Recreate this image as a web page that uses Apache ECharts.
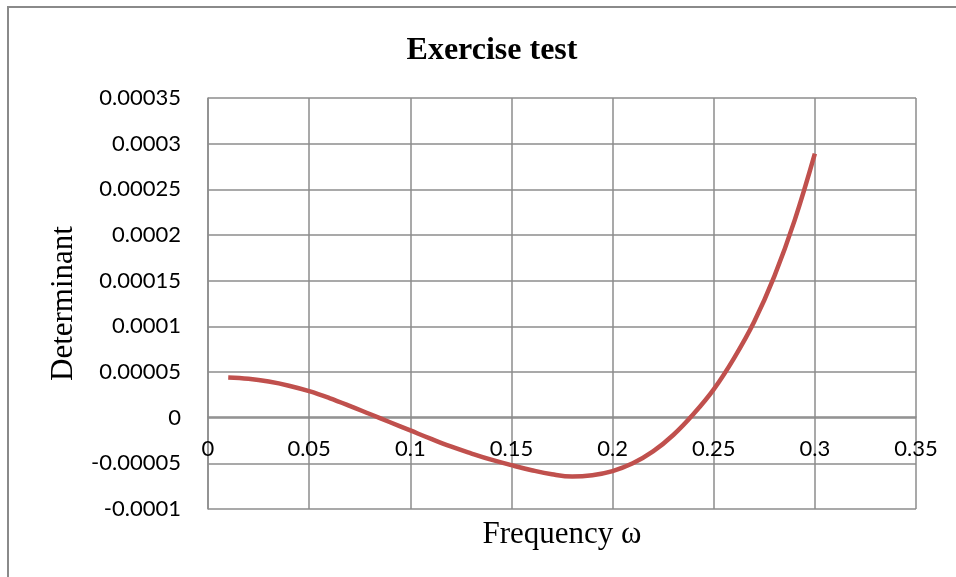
<!DOCTYPE html>
<html><head><meta charset="utf-8">
<script src="https://cdn.jsdelivr.net/npm/echarts@6/dist/echarts.min.js"></script>
<style>html,body{margin:0;padding:0;background:#fff}#c{width:956px;height:577px}</style>
</head><body><div id="c"></div>
<script>
const freq = [0.01,0.02,0.03,0.04,0.05,0.06,0.07,0.08,0.09,0.10,0.11,0.12,0.13,0.14,0.15,0.16,0.17,0.18,0.19,0.20,0.21,0.22,0.23,0.24,0.25,0.26,0.27,0.28,0.29,0.30];
const determinant = [4.4e-5,4.25e-5,3.95e-5,3.5e-5,2.9e-5,2.15e-5,1.3e-5,0.4e-5,-0.5e-5,-1.4e-5,-2.3e-5,-3.15e-5,-3.9e-5,-4.6e-5,-5.2e-5,-5.75e-5,-6.2e-5,-6.45e-5,-6.3e-5,-5.85e-5,-5.0e-5,-3.7e-5,-1.9e-5,0.4e-5,3.1e-5,6.5e-5,10.5e-5,15.5e-5,21.6e-5,28.9e-5];
const yTicks = ['-0.0001','-0.00005','0','0.00005','0.0001','0.00015','0.0002','0.00025','0.0003','0.00035'];
const xTicks = ['0','0.05','0.1','0.15','0.2','0.25','0.3','0.35'];

const chart = echarts.init(document.getElementById('c'));
const gridColor = '#8c8c8c';
chart.setOption({
  animation:false,
  title:{text:'Exercise test',left:487,top:30,textAlign:'center',
    textStyle:{fontFamily:'Liberation Serif',fontWeight:'bold',fontSize:32,color:'#000'}},
  graphic:[{type:'rect',shape:{x:8,y:7,width:1000,height:600},style:{fill:'none',stroke:'#8a8a8a',lineWidth:2},silent:true}],
  grid:{left:208,right:40,top:98,bottom:68,outerBoundsMode:'none',containLabel:false},
  xAxis:{type:'value',min:0,max:0.35,interval:0.05,
    offset:-92,
    name:'Frequency ω',nameLocation:'middle',nameGap:102,
    nameTextStyle:{fontFamily:'Liberation Serif',fontSize:31,color:'#000'},
    axisLine:{onZero:false,lineStyle:{color:gridColor,width:1.5}},
    axisTick:{show:false},
    axisLabel:{margin:21,fontFamily:'Lato',fontSize:22,color:'#000',
      formatter:(v)=>{const i=Math.round(v/0.05);return xTicks[i];}},
    splitLine:{show:true,lineStyle:{color:gridColor,width:1.5}}},
  yAxis:{type:'value',min:-0.0001,max:0.00035,interval:0.00005,
    name:'Determinant',nameLocation:'middle',nameGap:129,
    nameTextStyle:{fontFamily:'Liberation Serif',fontSize:31,color:'#000'},
    axisLine:{show:true,onZero:false,lineStyle:{color:gridColor,width:1.5}},
    axisTick:{show:false},
    axisLabel:{margin:27,fontFamily:'Lato',fontSize:22,color:'#000',
      formatter:(v)=>{const i=Math.round((v+0.0001)/0.00005);return yTicks[i];}},
    splitLine:{show:true,lineStyle:{color:gridColor,width:1.5}}},
  series:[{type:'line',data:freq.map((f,i)=>[f,determinant[i]]),smooth:0.4,showSymbol:false,
    lineStyle:{color:'#C0504D',width:4.5}}]
});
</script></body></html>
